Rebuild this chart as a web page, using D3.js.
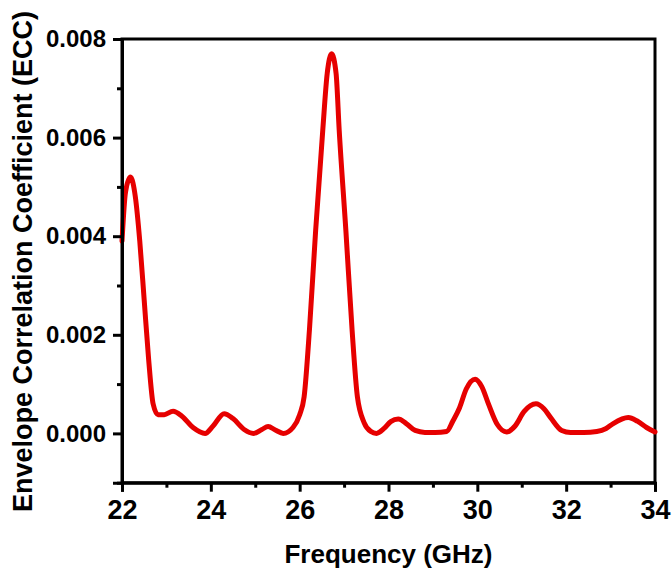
<!DOCTYPE html>
<html><head><meta charset="utf-8">
<script src="https://cdn.jsdelivr.net/npm/d3@7"></script>
<style>body{margin:0;background:#fff}svg{display:block}</style>
</head><body>
<script>
// Frequency (GHz)
const freq = [22.00,22.08,22.19,22.30,22.40,22.50,22.60,22.70,22.81,22.95,23.15,23.35,23.60,23.87,24.05,24.30,24.50,24.75,24.96,25.15,25.29,25.45,25.63,25.85,26.00,26.10,26.22,26.36,26.52,26.62,26.72,26.82,26.89,27.04,27.18,27.30,27.45,27.60,27.73,27.90,28.05,28.22,28.40,28.60,28.82,29.05,29.31,29.45,29.60,29.75,29.95,30.10,30.25,30.45,30.66,30.85,31.05,31.32,31.50,31.65,31.90,32.10,32.40,32.69,32.90,33.06,33.40,33.60,33.81,34.00];
// Envelope correlation coefficient
const ecc = [0.0039,0.0049,0.0052,0.0048,0.0039,0.0027,0.0015,0.0006,0.00038,0.00038,0.00045,0.00035,0.00012,0.00000,0.00015,0.00040,0.00030,0.00008,0.00000,0.00008,0.00014,0.00007,0.00000,0.00012,0.00038,0.00074,0.0021,0.00412,0.00615,0.0073,0.0077,0.0073,0.00615,0.00412,0.0021,0.00074,0.00022,0.00004,0.00000,0.00010,0.00024,0.00029,0.00020,0.00006,0.00002,0.00002,0.00004,0.00025,0.00052,0.00090,0.00110,0.00095,0.00060,0.00018,0.00003,0.00015,0.00044,0.00060,0.00050,0.00032,0.00006,0.00002,0.00002,0.00004,0.00010,0.00020,0.00032,0.00025,0.00012,0.00003];
const xMajor = [22,24,26,28,30,32,34];
const xMinor = [23,25,27,29,31,33];
const yMajor = [0,0.002,0.004,0.006,0.008];
const yMinor = [-0.001,0.001,0.003,0.005,0.007];

const W = 672, H = 572;
const m = {l:122, t:39, r:655, b:482.7};
const svg = d3.select("body").append("svg").attr("width",W).attr("height",H);
const x = d3.scaleLinear().domain([22,34]).range([m.l,m.r]);
const y = d3.scaleLinear().domain([-0.001,0.008]).range([m.b,m.t]);
const font = "'Liberation Sans', Arial, sans-serif";

// frame
svg.append("rect").attr("x",m.l).attr("y",m.t).attr("width",m.r-m.l).attr("height",m.b-m.t)
  .attr("fill","none").attr("stroke","#000").attr("stroke-width",3);

// curve
const line = d3.line().x((d,i)=>x(freq[i])).y(d=>y(d)).curve(d3.curveMonotoneX);
svg.append("path").datum(ecc).attr("d",line).attr("fill","none")
  .attr("stroke","#e60000").attr("stroke-width",5).attr("stroke-linejoin","round").attr("stroke-linecap","round");

function styleAxis(g){
  g.select(".domain").attr("stroke","#000").attr("stroke-width",3);
  g.selectAll(".tick line").attr("stroke","#000").attr("stroke-width",3);
}
// x axis
const gx = svg.append("g").attr("transform",`translate(0,${m.b})`)
  .call(d3.axisBottom(x).tickValues(xMajor).tickSize(9).tickPadding(8).tickFormat(d3.format("d")));
styleAxis(gx);
gx.selectAll("text").attr("font-family",font).attr("font-weight","bold").attr("font-size",27).attr("fill","#000");
const gxm = svg.append("g").attr("transform",`translate(0,${m.b})`)
  .call(d3.axisBottom(x).tickValues(xMinor).tickSize(5).tickFormat(""));
styleAxis(gxm); gxm.select(".domain").remove();

// y axis
const gy = svg.append("g").attr("transform",`translate(${m.l},0)`)
  .call(d3.axisLeft(y).tickValues(yMajor).tickSize(9).tickPadding(7).tickFormat(d3.format(".3f")));
styleAxis(gy);
gy.selectAll("text").attr("font-family",font).attr("font-weight","bold").attr("font-size",24).attr("fill","#000");
const gym = svg.append("g").attr("transform",`translate(${m.l},0)`)
  .call(d3.axisLeft(y).tickValues(yMinor).tickSize(5).tickFormat(""));
styleAxis(gym); gym.select(".domain").remove();

// titles
svg.append("text").attr("x",(m.l+m.r)/2).attr("y",563).attr("text-anchor","middle")
  .attr("font-family",font).attr("font-weight","bold").attr("font-size",26).text("Frequency (GHz)");
svg.append("text").attr("transform",`translate(32,261.5) rotate(-90)`).attr("text-anchor","middle")
  .attr("font-family",font).attr("font-weight","bold").attr("font-size",27).text("Envelope Correlation Coefficient (ECC)");
</script>
</body></html>
